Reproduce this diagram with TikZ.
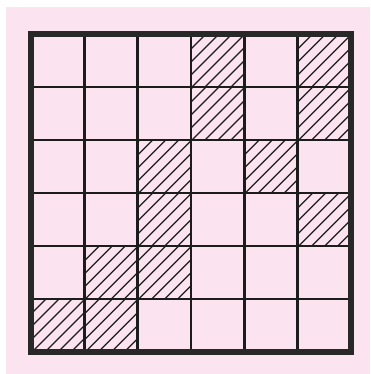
\documentclass[tikz,border=0pt]{standalone}
\definecolor{bgpink}{RGB}{251,227,239}
\definecolor{ink}{RGB}{28,28,28}
\definecolor{framec}{RGB}{40,40,40}
\tikzset{
  gridline/.style={line width=2.8pt, ink},
  hatchline/.style={line width=1.2pt, ink},
  framebox/.style={line width=6pt, framec}
}
\begin{document}
\begin{tikzpicture}[x=1pt,y=-1pt]
\useasboundingbox (0,0) rectangle (370,374);
\fill[white] (0,0) rectangle (370,374);
\fill[bgpink] (6,7) rectangle (370,374);
% hatched cells
\foreach \c/\r in {4/1,6/1,4/2,6/2,3/3,5/3,3/4,6/4,2/5,3/5,1/6,2/6}{
  \pgfmathsetmacro{\xa}{31+(\c-1)*53.333}
  \pgfmathsetmacro{\ya}{34+(\r-1)*53}
  \begin{scope}
    \clip (\xa,\ya) rectangle ({\xa+53.333},{\ya+53});
    \foreach \s in {0,13,...,117}{
      \draw[hatchline] ({\xa+\s+4},{\ya-2}) -- ({\xa+\s-60},{\ya+62});
    }
  \end{scope}
}
% grid
\foreach \i in {1,...,5}{
  \draw[gridline] ({31+\i*53.333},34) -- ({31+\i*53.333},352);
  \draw[gridline] (31,{34+\i*53}) -- (351,{34+\i*53});
}
% frame
\draw[framebox] (31,34) rectangle (351,352);
\end{tikzpicture}
\end{document}
